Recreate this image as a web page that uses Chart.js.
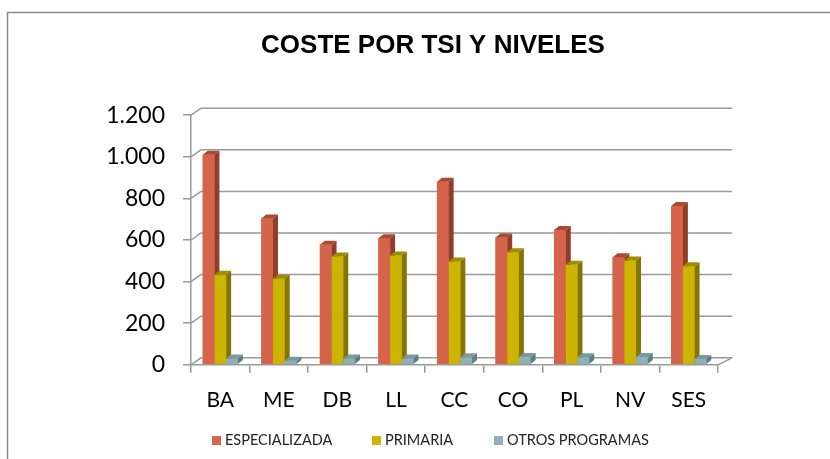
<!DOCTYPE html>
<html>
<head>
<meta charset="utf-8">
<script src="https://cdn.jsdelivr.net/npm/chart.js@4.4.0/dist/chart.umd.min.js"></script>
<style>
  body { margin: 0; background: #fff; }
  #wrap { position: relative; width: 830px; height: 459px; }
  .leg { position: absolute; top: 431px; font: 14.5px Lato, sans-serif; color: #222; white-space: nowrap; line-height: 18px; }
  .leg i { display: inline-block; width: 9px; height: 9px; margin-right: 4px; vertical-align: 0px; }
</style>
</head>
<body>
<div id="wrap">
  <canvas id="coste" width="830" height="459"></canvas>
  <div class="leg" style="left:212px"><i style="background:#D4654A"></i>ESPECIALIZADA</div>
  <div class="leg" style="left:372px"><i style="background:#CCB400"></i>PRIMARIA</div>
  <div class="leg" style="left:494px"><i style="background:#8FB0B4"></i>OTROS PROGRAMAS</div>
</div>
<script>
var niveles = ["BA", "ME", "DB", "LL", "CC", "CO", "PL", "NV", "SES"];
var especializada = [1010, 703, 577, 608, 880, 612, 648, 517, 763];
var primaria = [433, 414, 521, 525, 497, 541, 481, 501, 474];
var otros = [30, 20, 30, 30, 36, 38, 36, 38, 28];

// fake 3D: side + top faces on each bar, back wall gridlines
var DX = 10, DY = 7;

var pseudo3d = {
  id: 'pseudo3d',
  beforeDraw: function (chart) {
    var c = chart.ctx;
    c.save();
    c.strokeStyle = '#8a8a8a';
    c.lineWidth = 1.5;
    c.beginPath();
    c.moveTo(7.5, 459);
    c.lineTo(7.5, 12.5);
    c.lineTo(830, 12.5);
    c.stroke();
    c.restore();
  },
  beforeDatasetsDraw: function (chart) {
    var c = chart.ctx, a = chart.chartArea, y = chart.scales.y;
    c.save();
    c.strokeStyle = '#9a9a9a';
    c.lineWidth = 1.5;
    y.ticks.forEach(function (t) {
      var py = y.getPixelForValue(t.value);
      c.beginPath();
      c.moveTo(a.left, py);
      c.lineTo(a.left + DX, py - DY);
      c.lineTo(a.right + 14, py - DY);
      c.stroke();
    });
    c.beginPath();
    c.moveTo(a.right, a.bottom);
    c.lineTo(a.right + 14, a.bottom - DY);
    c.stroke();
    c.restore();
  },
  // redraw bars left to right so each front face hides the previous side face
  afterDatasetsDraw: function (chart) {
    var c = chart.ctx;
    var d = 5, h = 4;
    c.save();
    chart.data.datasets.forEach(function (ds, i) {
      chart.getDatasetMeta(i).data.forEach(function (el) {
        el.draw(c);
        var p = el.getProps(['x', 'y', 'base', 'width'], true);
        var l = p.x - p.width / 2, r = p.x + p.width / 2;
        c.fillStyle = ds.topColor;
        c.beginPath();
        c.moveTo(l, p.y);
        c.lineTo(l + d, p.y - h);
        c.lineTo(r + d, p.y - h);
        c.lineTo(r, p.y);
        c.closePath();
        c.fill();
        c.fillStyle = ds.sideColor;
        c.beginPath();
        c.moveTo(r, p.y);
        c.lineTo(r + d, p.y - h);
        c.lineTo(r + d, p.base - h);
        c.lineTo(r, p.base);
        c.closePath();
        c.fill();
      });
    });
    c.restore();
  }
};

new Chart(document.getElementById("coste"), {
  type: 'bar',
  data: {
    labels: niveles,
    datasets: [
      { label: "ESPECIALIZADA", data: especializada, backgroundColor: "#D4654A", sideColor: "#923C2B", topColor: "#A9492F" },
      { label: "PRIMARIA", data: primaria, backgroundColor: "#CCB400", sideColor: "#857500", topColor: "#A08C00" },
      { label: "OTROS PROGRAMAS", data: otros, backgroundColor: "#8FB0B4", sideColor: "#5E7E81", topColor: "#779A9E" }
    ]
  },
  options: {
    responsive: false,
    animation: false,
    datasets: { bar: { categoryPercentage: 0.6, barPercentage: 1.0 } },
    layout: { padding: { left: 36, right: 0, bottom: 31, top: 0 } },
    plugins: {
      legend: { display: false },
      tooltip: { enabled: false },
      title: {
        display: true,
        text: 'COSTE POR TSI Y NIVELES',
        color: '#000',
        font: { family: 'Liberation Sans', size: 26, weight: 'bold' },
        padding: { top: 30, bottom: 54 }
      }
    },
    scales: {
      x: {
        grid: { display: true, drawOnChartArea: false, drawTicks: true, tickLength: 8, color: '#9a9a9a', lineWidth: 1.5, offset: true },
        border: { display: true, color: '#9a9a9a', width: 1.5 },
        ticks: { color: '#000', padding: 15, font: { family: 'Lato', size: 21 } }
      },
      y: {
        min: 0,
        max: 1200,
        afterFit: function (s) { s.width = 155; },
        grid: { display: true, drawOnChartArea: false, drawTicks: true, tickLength: 8, color: '#9a9a9a', lineWidth: 1.5 },
        border: { display: true, color: '#9a9a9a', width: 1.5 },
        ticks: {
          stepSize: 200,
          color: '#000',
          padding: 18,
          font: { family: 'Lato', size: 23 },
          callback: function (v) { return String(v).replace(/\B(?=(\d{3})+(?!\d))/g, '.'); }
        }
      },
      // empty right-hand axis only reserves the space right of the plot
      y2: {
        position: 'right',
        afterFit: function (s) { s.width = 112; },
        grid: { display: false },
        border: { display: false },
        ticks: { display: false }
      }
    }
  },
  plugins: [pseudo3d]
});
</script>
</body>
</html>
